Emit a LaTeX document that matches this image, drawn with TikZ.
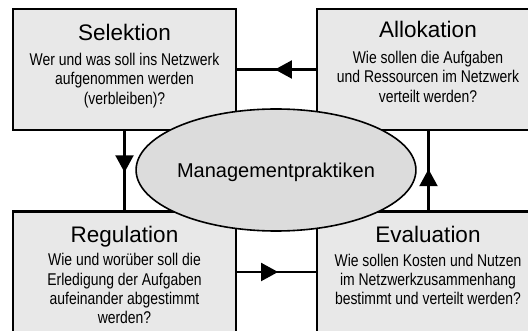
\documentclass[tikz,border=0pt]{standalone}
\usepackage{fontspec}
\setmainfont{Liberation Sans}
\newfontfamily\narrowsans[FakeStretch=0.82]{Liberation Sans}
\usetikzlibrary{arrows.meta,decorations.markings,shapes.geometric}

\definecolor{stagefill}{HTML}{E8E8E8}
\definecolor{corefill}{HTML}{DCDCDC}

\begin{document}
\begin{tikzpicture}[x=1pt,y=-1pt,
  stage/.style={draw=black, line width=2.1pt, fill=stagefill,
    minimum width=223pt, minimum height=121pt, inner sep=0pt},
  heading/.style={font=\fontsize{22.5}{26}\selectfont, anchor=base, inner sep=0pt},
  % placed by the baseline of the last line
  question/.style={font=\narrowsans\fontsize{17}{19.4}\selectfont,
    align=center, anchor=base, inner sep=0pt},
  core/.style={ellipse, draw=black, line width=1.6pt, fill=corefill,
    minimum width=244pt, minimum height=122pt, inner sep=0pt,
    font=\fontsize{20}{24}\selectfont, text depth=0pt},
  flow/.style={line width=2.1pt, postaction={decorate},
    decoration={markings, mark=at position 0.52 with
      {\arrow{Triangle[length=17pt,width=18pt]}}}}
]
\useasboundingbox (0,0) rectangle (528,331);
\clip (0,0) rectangle (528,331);

% the four stages of the cycle
\node[stage] (sel) at (124.5,69.5) {};
\node[stage] (alo) at (428.5,69.5) {};
\node[stage] (reg) at (124.5,272) {};
\node[stage] (eva) at (428.5,272) {};

% connectors, arrowheads in the middle
\draw[flow] (alo.west) -- (sel.east);
\draw[flow] (sel.south) -- (reg.north);
\draw[flow] (reg.east) -- (eva.west);
\draw[flow] (eva.north) -- (alo.south);

% stage texts
\node[heading] (selT) at (124.5,40.7) {Selektion};
\node[question] (selQ) at (124.5,104.3)
  {Wer und was soll ins Netzwerk\\aufgenommen werden\\(verbleiben)?};

\node[heading] (aloT) at (428,37.7) {Allokation};
\node[question] (aloQ) at (428,102.3)
  {Wie sollen die Aufgaben\\und Ressourcen im Netzwerk\\verteilt werden?};

\node[heading] (regT) at (124.5,242.3) {Regulation};
\node[question] (regQ) at (124.5,324)
  {Wie und worüber soll die\\Erledigung der Aufgaben\\aufeinander abgestimmt\\werden?};

\node[heading] (evaT) at (428,242.7) {Evaluation};
\node[question] (evaQ) at (428,305)
  {Wie sollen Kosten und Nutzen\\im Netzwerkzusammenhang\\bestimmt und verteilt werden?};

% central ellipse
\node[core] (mgmt) at (276,170) {Managementpraktiken};
\end{tikzpicture}
\end{document}
